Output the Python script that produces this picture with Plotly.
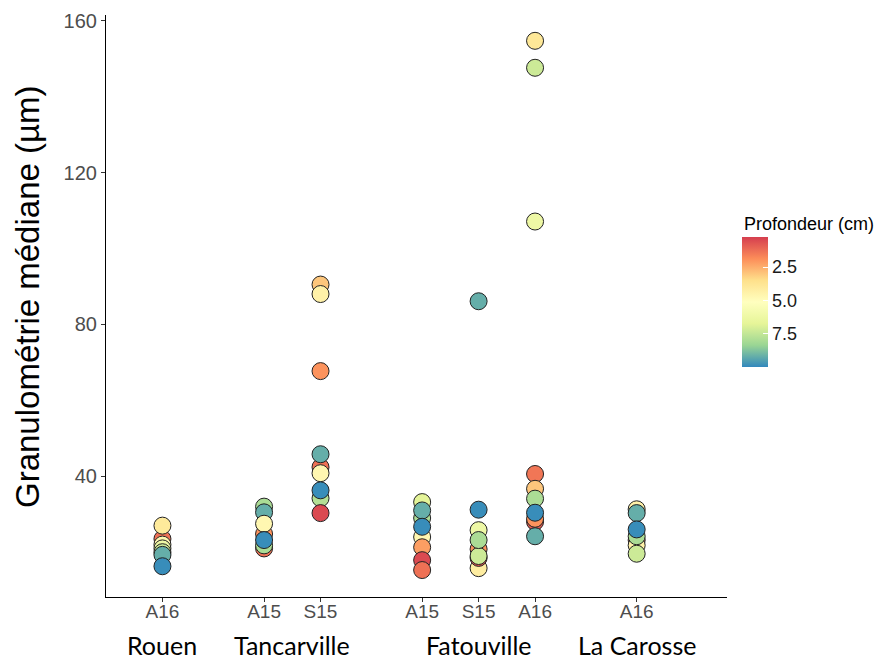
import plotly.graph_objects as go

# Category (site / campaign) layout
sample_labels = ["A16", "A15", "S15", "A15", "S15", "A16", "A16"]
sample_pos = [1, 2.8, 3.8, 5.6, 6.6, 7.6, 9.4]
site_names = ["Rouen", "Tancarville", "Fatouville", "La Carosse"]
site_pos = [1, 3.3, 6.6, 9.4]

# Points: category index, median grain size (µm), depth (cm) – in drawing order
point_cat = [0, 0, 0, 0, 0, 0, 0,
             1, 1, 1, 1, 1, 1, 1,
             2, 2, 2, 2, 2, 2, 2, 2, 2,
             3, 3, 3, 3, 3, 3, 3, 3,
             4, 4, 4, 4, 4, 4, 4, 4,
             5, 5, 5, 5, 5, 5, 5, 5, 5, 5,
             6, 6, 6, 6, 6, 6, 6]
point_value = [23.5, 27.0, 22.0, 21.0, 20.0, 19.3, 16.3,
               32.0, 30.5, 21.0, 21.8, 24.8, 27.5, 23.2,
               90.5, 88.0, 67.7, 42.4, 45.8, 40.8, 34.2, 36.3, 30.3,
               33.2, 29.0, 31.0, 24.0, 26.7, 21.3, 17.9, 15.3,
               86.1, 31.2, 25.8, 15.8, 18.5, 20.8, 19.0, 23.2,
               154.7, 147.6, 107.1, 40.6, 36.7, 34.1, 28.0, 28.8, 30.4, 24.2,
               31.3, 30.3, 23.2, 21.8, 24.2, 26.0, 19.6]
point_depth = [1.3, 4.0, 4.7, 6.2, 7.3, 9.2, 9.9,
               8.0, 9.2, 1.3, 8.0, 2.0, 4.7, 9.9,
               3.0, 4.4, 2.0, 1.3, 9.2, 4.7, 7.8, 9.9, 0.5,
               6.8, 8.0, 9.2, 4.7, 9.9, 2.2, 0.5, 1.3,
               9.2, 9.9, 6.2, 4.2, 0.8, 2.0, 7.3, 8.0,
               3.9, 7.3, 6.2, 1.4, 3.0, 8.0, 0.8, 2.0, 9.9, 9.2,
               4.4, 9.2, 0.8, 4.4, 8.0, 9.9, 7.3]

depth_ticks = [2.5, 5.0, 7.5]
y_ticks = [40, 80, 120, 160]

spectral = ["#3288BD", "#99D594", "#E6F598", "#FFFFBF", "#FEE08B", "#FC8D59", "#D53E4F"]
colorscale = [[i / (len(spectral) - 1), c] for i, c in enumerate(spectral)]

xs = [sample_pos[c] for c in point_cat]
neg_depth = [-d for d in point_depth]

# plot area in pixels: x 106..727, y 15..597
PL, PR, PT, PB = 106, 727, 15, 597
pw, ph = PR - PL, PB - PT

fig = go.Figure()
fig.add_trace(go.Scatter(
    x=xs, y=point_value, mode="markers",
    marker=dict(
        size=17, color=neg_depth, colorscale=colorscale,
        cmin=-10, cmax=-0.25, opacity=1,
        line=dict(color="#222222", width=1),
        colorbar=dict(
            tickvals=[-t for t in depth_ticks],
            ticktext=[f"{t:.1f}" for t in depth_ticks],
            ticks="inside", ticklen=5, tickcolor="white", tickwidth=1,
            tickfont=dict(family="Liberation Sans, Arial", size=18, color="#1a1a1a"),
            outlinewidth=0, thickness=26, xpad=0, ypad=0,
            len=130, lenmode="pixels",
            x=(742 - PL) / pw, xanchor="left",
            y=(PB - 367) / ph, yanchor="bottom",
        ),
    ),
    showlegend=False, hoverinfo="skip",
))

fig.add_annotation(x=(742 - PL) / pw, xref="paper", xanchor="left",
                   y=(PB - 224) / ph, yref="paper", yanchor="middle",
                   text="Profondeur (cm)", showarrow=False,
                   font=dict(family="Liberation Sans, Arial", size=18, color="#000000"))

fig.add_annotation(x=(27 - PL) / pw, xref="paper", xanchor="center",
                   y=(PB - 297) / ph, yref="paper", yanchor="middle",
                   text="Granulométrie médiane (µm)", textangle=-90, showarrow=False,
                   font=dict(family="Liberation Sans, Arial", size=33, color="#000000"))

for name, pos in zip(site_names, site_pos):
    fig.add_annotation(x=pos, xref="x", y=(PB - 645) / ph, yref="paper", yanchor="middle",
                       text=name, showarrow=False,
                       font=dict(family="Lato, Open Sans", size=25, color="#000000"))

fig.update_layout(
    width=888, height=660,
    margin=dict(l=PL, r=888 - PR, t=PT, b=660 - PB, autoexpand=False),
    paper_bgcolor="white", plot_bgcolor="white",
    font=dict(family="Liberation Sans, Arial"),
    xaxis=dict(
        range=[0, 11], tickvals=sample_pos, ticktext=sample_labels,
        showgrid=False, zeroline=False, showline=True, linecolor="#000000", linewidth=1.2,
        ticks="outside", ticklen=4, tickcolor="#333333", ticklabelstandoff=-7,
        tickfont=dict(size=19, color="#4D4D4D"), automargin=False,
    ),
    yaxis=dict(
        range=[8.2, 161.5], tickvals=y_ticks,
        showgrid=False, zeroline=False, showline=True, linecolor="#000000", linewidth=1.2,
        ticks="outside", ticklen=4, tickcolor="#333333",
        tickfont=dict(size=20, color="#4D4D4D"), automargin=False,
    ),
)

fig.write_html("out.html", config={"displayModeBar": False},
               post_script="document.body.style.margin='0';")
